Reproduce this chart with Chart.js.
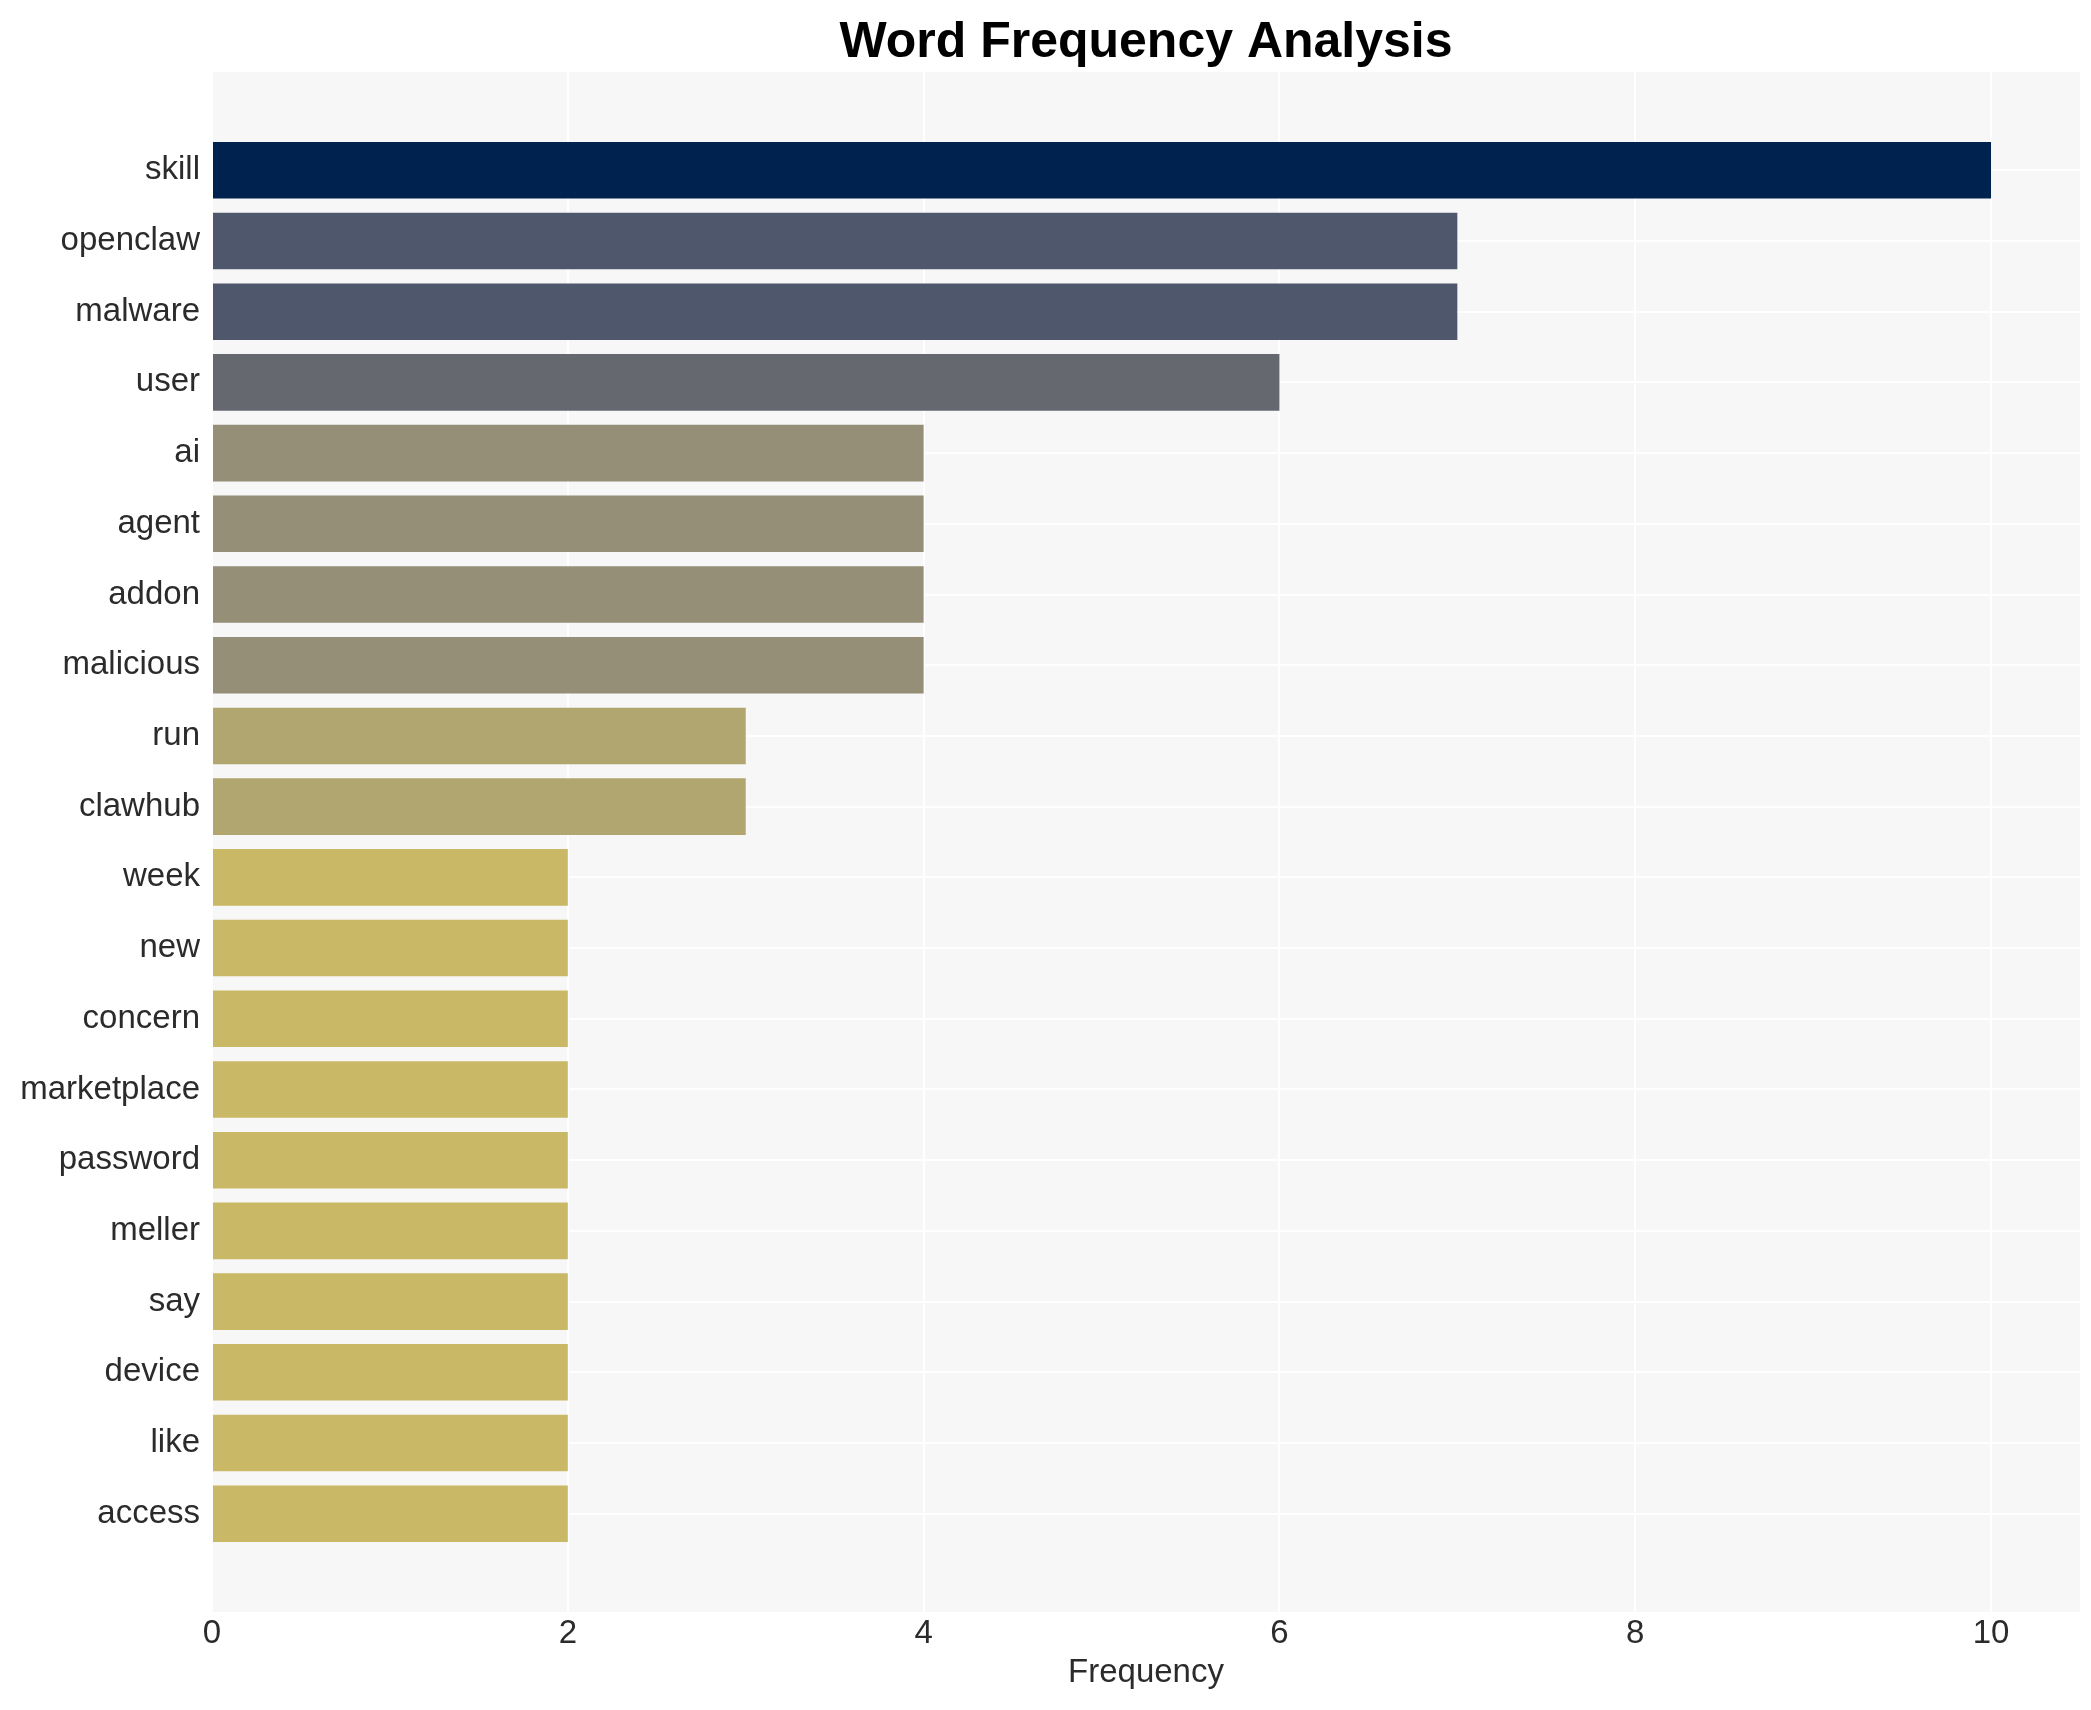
<!DOCTYPE html>
<html>
<head>
<meta charset="utf-8">
<script src="https://cdn.jsdelivr.net/npm/chart.js@4"></script>
<style>
  html, body { margin: 0; padding: 0; background: #fff; }
  #wrap { width: 2091px; height: 1710px; }
</style>
</head>
<body>
<div id="wrap"><canvas id="word-chart"></canvas></div>
<script>
const words = ['skill', 'openclaw', 'malware', 'user', 'ai', 'agent', 'addon', 'malicious', 'run', 'clawhub',
    'week', 'new', 'concern', 'marketplace', 'password', 'meller', 'say', 'device', 'like', 'access'];
const counts = [10, 7, 7, 6, 4, 4, 4, 4, 3, 3, 2, 2, 2, 2, 2, 2, 2, 2, 2, 2];
const xTicks = [0, 2, 4, 6, 8, 10];

// colour per count (cividis-like shades)
const shade = {10: '#00224e', 7: '#4f576c', 6: '#666870', 4: '#958f77', 3: '#b1a570', 2: '#c9b865'};

const FONT = "'Liberation Sans', Arial, sans-serif";

const plotBg = {
    id: 'plotBg',
    beforeDraw(chart) {
        const a = chart.chartArea;
        const c = chart.ctx;
        c.save();
        c.fillStyle = '#f7f7f7';
        c.fillRect(a.left, a.top, a.right - a.left, a.bottom - a.top);
        c.restore();
    },
    afterDraw(chart) {
        // title centred over the plot area, not the whole canvas
        const a = chart.chartArea;
        const c = chart.ctx;
        c.save();
        c.fillStyle = '#000';
        c.font = 'bold 50px ' + FONT;
        c.textAlign = 'center';
        c.textBaseline = 'alphabetic';
        c.fillText('Word Frequency Analysis', (a.left + a.right) / 2, 57);
        c.restore();
    }
};

const ctx = document.getElementById('word-chart');

new Chart(ctx, {
    type: 'bar',
    data: {
        datasets: [{
            label: 'Frequency',
            data: counts.map((v, i) => ({x: v, y: i})),
            backgroundColor: counts.map(v => shade[v]),
            borderWidth: 0,
            barPercentage: 0.8,
            categoryPercentage: 1
        }]
    },
    plugins: [plotBg],
    options: {
        indexAxis: 'y',
        responsive: true,
        maintainAspectRatio: false,
        animation: false,
        layout: {
            padding: {top: 72, right: 11, left: 0, bottom: 0}
        },
        plugins: {
            legend: {display: false},
            tooltip: {enabled: false},
            title: {display: false}
        },
        scales: {
            x: {
                type: 'linear',
                bounds: 'data',
                min: 0,
                max: 10.5,
                afterBuildTicks: axis => { axis.ticks = xTicks.map(v => ({value: v})); },
                afterFit: axis => { axis.height = 98; },
                grid: {color: '#ffffff', lineWidth: 2, drawTicks: false},
                border: {display: false},
                ticks: {
                    color: '#2b2b2b',
                    font: {family: FONT, size: 33},
                    padding: 2
                },
                title: {
                    display: true,
                    text: 'Frequency',
                    color: '#2b2b2b',
                    font: {family: FONT, size: 33},
                    padding: {top: 0, bottom: 17}
                }
            },
            y: {
                type: 'linear',
                bounds: 'data',
                offset: false,
                reverse: true,
                min: -1.39,
                max: 20.39,
                afterBuildTicks: axis => { axis.ticks = words.map((w, i) => ({value: i})); },
                afterFit: axis => { axis.width = 212; },
                grid: {color: '#ffffff', lineWidth: 2, drawTicks: false, offset: false},
                border: {display: false},
                ticks: {
                    color: '#2b2b2b',
                    font: {family: FONT, size: 33},
                    padding: 12,
                    callback: v => words[v]
                }
            }
        }
    }
});
</script>
</body>
</html>
